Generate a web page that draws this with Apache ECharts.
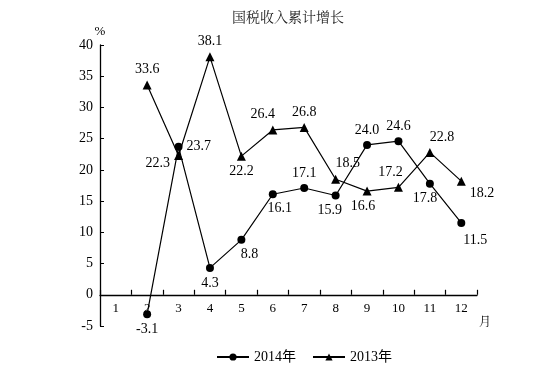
<!DOCTYPE html>
<html><head><meta charset="utf-8">
<script src="https://cdn.jsdelivr.net/npm/echarts@6/dist/echarts.min.js"></script>
<style>html,body{margin:0;padding:0;background:#fff}#c{width:553px;height:391px}</style>
</head><body><div id="c"></div>
<script>
const months = ['1','2','3','4','5','6','7','8','9','10','11','12'];
const growth2014 = [null, -3.1, 23.7, 4.3, 8.8, 16.1, 17.1, 15.9, 24.0, 24.6, 17.8, 11.5];
const growth2013 = [null, 33.6, 22.3, 38.1, 22.2, 26.4, 26.8, 18.5, 16.6, 17.2, 22.8, 18.2];
const yTicks = [-5, 0, 5, 10, 15, 20, 25, 30, 35, 40];

// label placement per point [position, dx, dy]
const lab2014 = [null, ['bottom',0,0], ['right',0,0], ['bottom',0,0], ['bottom',8,0], ['bottom',7,-1], ['top',0,0], ['bottom',-6,0], ['top',0,0], ['top',0,0], ['bottom',-5,0], ['bottom',14,2]];
const lab2013 = [null, ['top',0,0], ['left',0,8], ['top',0,0], ['bottom',0,0], ['top',-10,0], ['top',0,0], ['top',12,0], ['bottom',-4,0], ['top',-8,0], ['top',12,0], ['right',0,12]];

const FONT = '"Liberation Serif", "Times New Roman", "Noto Sans CJK SC", serif';
const CJK = '"Noto Serif CJK SC", "Noto Sans CJK SC", serif';

function build(vals, labs) {
  return vals.map((v, i) => {
    if (v === null) return null;
    const l = labs[i];
    return { value: v, label: { show: true, position: l[0], offset: [l[1], l[2]], formatter: v.toFixed(1) } };
  });
}

const gridTop = 45, gridBottom = 65, H = 391;
const plotH = H - gridTop - gridBottom;
const zeroOffset = -plotH * (0 - (-5)) / (40 - (-5));

const chart = echarts.init(document.getElementById('c'), null, { renderer: 'canvas' });
chart.setOption({
  animation: false,
  backgroundColor: '#fff',
  textStyle: { fontFamily: FONT, color: '#000' },
  title: {
    text: '国税收入累计增长', left: 283, textAlign: 'center', top: 5,
    textStyle: { fontFamily: CJK, fontSize: 14, fontWeight: 'normal', color: '#222' }
  },
  legend: {
    top: 345, left: 211, itemWidth: 32, itemHeight: 9, itemGap: 16,
    textStyle: { fontFamily: FONT, fontSize: 14, color: '#000' },
    data: ['2014年', '2013年']
  },
  grid: { left: 100, right: 76, top: gridTop, bottom: gridBottom },
  xAxis: {
    type: 'category', data: months, boundaryGap: true, offset: zeroOffset,
    axisLine: { onZero: false, lineStyle: { color: '#000', width: 1.3 } },
    axisTick: { show: true, inside: true, length: 5, alignWithLabel: false, lineStyle: { color: '#000', width: 1.2 } },
    axisLabel: { color: '#000', fontSize: 13, fontFamily: FONT, margin: 7 },
    name: '月', nameLocation: 'end', nameGap: 2,
    nameTextStyle: { fontFamily: CJK, fontSize: 12, color: '#000', verticalAlign: 'top', padding: [21, 0, 0, 0] }
  },
  yAxis: {
    type: 'value', min: -5, max: 40, interval: 5,
    axisLine: { show: true, lineStyle: { color: '#000', width: 1.3 } },
    axisTick: { show: true, inside: true, length: 4, lineStyle: { color: '#000' } },
    splitLine: { show: false },
    axisLabel: { color: '#000', fontSize: 14, fontFamily: FONT, margin: 7,
      formatter: v => yTicks.includes(v) ? String(v) : '' },
    name: '%', nameLocation: 'end', nameGap: 5,
    nameTextStyle: { fontFamily: FONT, fontSize: 13, color: '#000', align: 'center' }
  },
  series: [
    {
      name: '2014年', type: 'line', data: build(growth2014, lab2014),
      symbol: 'circle', symbolSize: 8, connectNulls: false,
      lineStyle: { color: '#000', width: 1.2 }, itemStyle: { color: '#000' },
      label: { color: '#000', fontSize: 14, fontFamily: FONT, distance: 4 }
    },
    {
      name: '2013年', type: 'line', data: build(growth2013, lab2013),
      symbol: 'triangle', symbolSize: 9,
      lineStyle: { color: '#000', width: 1.2 }, itemStyle: { color: '#000' },
      label: { color: '#000', fontSize: 14, fontFamily: FONT, distance: 4 }
    }
  ]
});
</script></body></html>
